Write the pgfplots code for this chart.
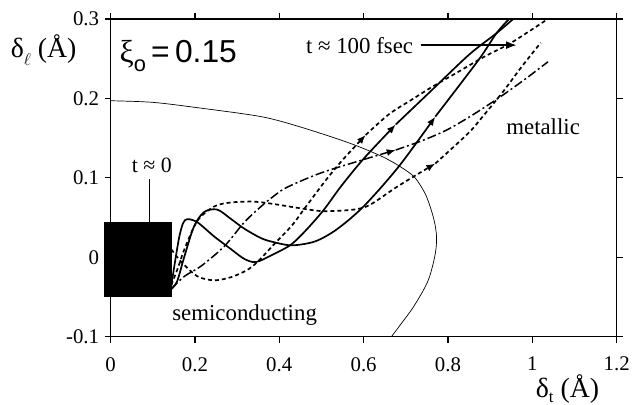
\documentclass[border=0pt]{standalone}
\usepackage{pgfplots}
\pgfplotsset{compat=1.18}
\usepackage{fontspec}
\setmainfont{Liberation Serif}
\newfontfamily\hv{Liberation Sans}
\usetikzlibrary{arrows.meta}
\tikzset{
  sol/.style={line width=1.7bp, smooth, black},
  dsh/.style={line width=1.7bp, smooth, black, dash pattern=on 4bp off 3bp},
  dd/.style={line width=1.5bp, smooth, black, dash pattern=on 9bp off 3bp on 2bp off 3bp},
  arr/.style={-{Latex[length=9bp,width=7bp]}},
}
\begin{document}
\begin{tikzpicture}
\begin{axis}[
  scale only axis, width=508bp, height=319bp,
  xmin=0, xmax=1.2, ymin=-0.1, ymax=0.3,
  xtick={0,0.2,0.4,0.6,0.8,1,1.2}, xticklabels={0,0.2,0.4,0.6,0.8,1,1.2},
  ytick={-0.1,0,0.1,0.2,0.3}, yticklabels={-0.1,0,0.1,0.2,0.3},
  tick align=outside, major tick length=6bp,
  tick style={line width=1.2bp, black},
  axis line style={line width=1.3bp},
  ticklabel style={font=\fontsize{21}{23}\selectfont},
  xticklabel style={yshift=-11bp},
  yticklabel style={xshift=-2bp},
  clip=false,
]
% boundary
\addplot[line width=0.7bp, smooth, black] coordinates {
(0,0.197) (0.1,0.195) (0.21,0.188) (0.357,0.177) (0.45,0.164) (0.565,0.144)
(0.643,0.127) (0.69,0.113) (0.722,0.1) (0.746,0.08) (0.76,0.06) (0.769,0.042)
(0.773,0.025) (0.771,0.008) (0.764,-0.01) (0.754,-0.028) (0.738,-0.045) (0.715,-0.065) (0.69,-0.083) (0.666,-0.1)};
% black square
\addplot[fill=black, draw=black] coordinates {(-0.014,-0.049) (0.144,-0.049) (0.144,0.044) (-0.014,0.044)} -- cycle;
\addplot[line width=1.5bp, black] coordinates {(0.092,0.098) (0.092,0.044)};
% S1
\addplot[sol, arr] coordinates {(0.144,-0.036) (0.153,-0.005) (0.163,0.026) (0.172,0.043) (0.182,0.048) (0.206,0.044) (0.246,0.026) (0.286,0.01) (0.317,-0.002) (0.345,-0.006) (0.387,0.004) (0.428,0.016) (0.465,0.035) (0.506,0.06) (0.546,0.089) (0.6,0.124) (0.676,0.167)};
\addplot[sol] coordinates {(0.676,0.167) (0.761,0.21) (0.85,0.255) (0.915,0.282) (0.955,0.3)};
% S2
\addplot[sol, arr] coordinates {(0.144,-0.04) (0.158,-0.03) (0.175,0.001) (0.198,0.039) (0.222,0.057) (0.253,0.06) (0.286,0.048) (0.317,0.036) (0.357,0.024) (0.387,0.019) (0.43,0.015) (0.485,0.02) (0.536,0.035) (0.6,0.064) (0.683,0.114) (0.77,0.177)};
\addplot[sol] coordinates {(0.77,0.177) (0.872,0.248) (0.915,0.282) (0.945,0.3)};
% D1
\addplot[dsh, arr] coordinates {(0.144,-0.035) (0.16,-0.013) (0.175,0.01) (0.206,0.046) (0.246,0.064) (0.286,0.069) (0.34,0.07) (0.387,0.067) (0.458,0.061) (0.506,0.058) (0.576,0.06) (0.615,0.066) (0.683,0.09) (0.77,0.118)};
\addplot[dsh] coordinates {(0.77,0.118) (0.848,0.156) (0.879,0.175) (0.93,0.208) (0.975,0.24) (1.02,0.27)};
% D2
\addplot[dsh, arr] coordinates {(0.144,0.01) (0.168,-0.006) (0.206,-0.024) (0.246,-0.029) (0.286,-0.025) (0.324,-0.016) (0.35,-0.005) (0.387,0.016) (0.43,0.04) (0.458,0.06) (0.506,0.094) (0.546,0.12) (0.605,0.154)};
\addplot[dsh] coordinates {(0.605,0.154) (0.66,0.18) (0.713,0.198) (0.761,0.214) (0.82,0.232) (0.888,0.253) (0.95,0.27) (1.037,0.3)};
% dash-dot
\addplot[dd, arr] coordinates {(0.144,-0.04) (0.175,-0.024) (0.215,-0.011) (0.27,0.014) (0.317,0.044) (0.357,0.064) (0.387,0.077) (0.418,0.088) (0.498,0.106) (0.6,0.123) (0.676,0.135)};
\addplot[dd] coordinates {(0.676,0.135) (0.74,0.147) (0.8,0.161) (0.864,0.181) (0.927,0.203) (0.985,0.225) (1.037,0.246)};
% t ~ 100 fsec arrow
\addplot[line width=2.5bp, black, -{Latex[length=11bp,width=8bp]}] coordinates {(0.735,0.267) (0.964,0.267)};
% texts
\node[anchor=base west, font=\fontsize{23}{25}\selectfont, inner sep=0pt] at (axis cs:0.463,0.257) {t ≈ 100 fsec};
\node[anchor=base west, font=\fontsize{23}{25}\selectfont, inner sep=0pt] at (axis cs:0.938,0.154) {metallic};
\node[anchor=base west, font=\fontsize{23}{25}\selectfont, inner sep=0pt] at (axis cs:0.146,-0.080) {semiconducting};
\node[anchor=base, font=\fontsize{22}{24}\selectfont, inner sep=0pt] at (axis cs:0.098,0.1065) {t ≈ 0};
\node[anchor=base west, font=\fontsize{32}{36}\selectfont, inner sep=0pt] at (axis cs:0.021,0.2456) {ξ\raisebox{-0.28em}{\hv\fontsize{22}{24}\selectfont o}{\hv\,=\,0.15}};
\node[anchor=base west, font=\fontsize{28}{30}\selectfont, inner sep=0pt] at (axis cs:-0.237,0.252) {δ\raisebox{-0.3em}{\fontsize{17}{17}\selectfont$\ell$}\ (Å)};
\node[anchor=base west, font=\fontsize{28}{30}\selectfont, inner sep=0pt] at (axis cs:1.008,-0.1762) {δ\raisebox{-0.18em}{\fontsize{17}{17}\selectfont t}\ (Å)};
\end{axis}
\path ([shift={(-111bp,-68bp)}]current axis.south west) rectangle ([shift={(14bp,19bp)}]current axis.north east);
\end{tikzpicture}
\end{document}
